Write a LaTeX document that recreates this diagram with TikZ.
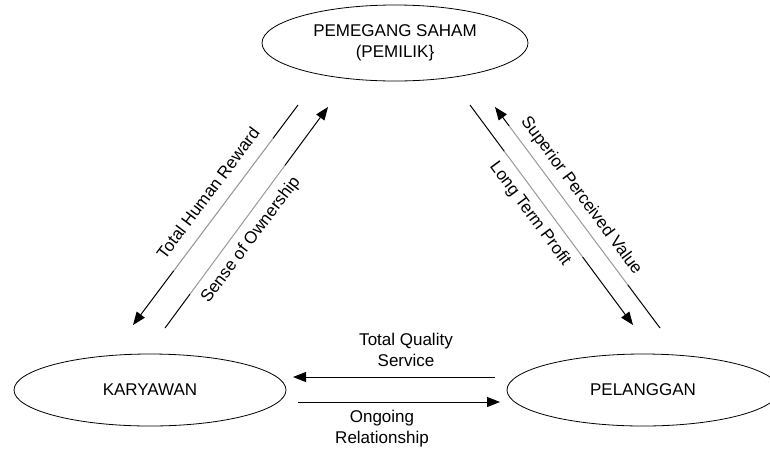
\documentclass[tikz,border=0pt]{standalone}
\usepackage{fontspec}
\setmainfont{Liberation Sans}
\usetikzlibrary{shapes.geometric, arrows.meta}

\begin{document}
\begin{tikzpicture}[x=1pt, y=-1pt,
            party/.style={draw, ellipse, line width=0.8pt, minimum width=272pt, minimum height=72pt, inner sep=0pt, align=center, font=\fontsize{17}{21}\selectfont},
            arrow/.style={-{Triangle[length=13pt, width=10pt]}, line width=1pt},
            flowtext/.style={align=center, font=\fontsize{17}{21}\selectfont},
            slanttext/.style={flowtext, fill=white, fill opacity=0.6, text opacity=1, minimum height=40pt}
        ]
            \useasboundingbox (0,0) rectangle (770,448);

            \node [party, minimum width=266pt, minimum height=76pt] (own) at (395,43) {PEMEGANG SAHAM\\(PEMILIK\}};
            \node [party] (kar) at (150,390) {KARYAWAN};
            \node [party] (pel) at (643,390) {PELANGGAN};

            % free ends of the connectors
            \coordinate (thr1) at (298,105);
            \coordinate (thr2) at (133,325);
            \coordinate (soo1) at (165,328);
            \coordinate (soo2) at (328,107);
            \coordinate (ltp1) at (470,105);
            \coordinate (ltp2) at (633,325);
            \coordinate (spv1) at (660,328);
            \coordinate (spv2) at (495,107);
            \coordinate (tqs1) at (495,377);
            \coordinate (tqs2) at (293,377);
            \coordinate (ogr1) at (298,402);
            \coordinate (ogr2) at (500,402);

            \draw [arrow] (thr1) -- (thr2);
            \draw [arrow] (soo1) -- (soo2);
            \draw [arrow] (ltp1) -- (ltp2);
            \draw [arrow] (spv1) -- (spv2);
            \draw [arrow] (tqs1) -- (tqs2);
            \draw [arrow] (ogr1) -- (ogr2);

            % slanted labels lie over the lines
            \node [slanttext, rotate=53.1] (thr) at (208,193) {Total Human Reward};
            \node [slanttext, rotate=53.1] (soo) at (251,240) {Sense of Ownership};
            \node [slanttext, rotate=-53.5] (spv) at (581,196) {Superior Perceived Value};
            \node [slanttext, rotate=-53.5] (ltp) at (530,214) {Long Term Profit};

            \node [flowtext] (tqs) at (406,350) {Total Quality\\Service};
            \node [flowtext] (ogr) at (382,429) {Ongoing\\Relationship};

        \end{tikzpicture}
\end{document}
